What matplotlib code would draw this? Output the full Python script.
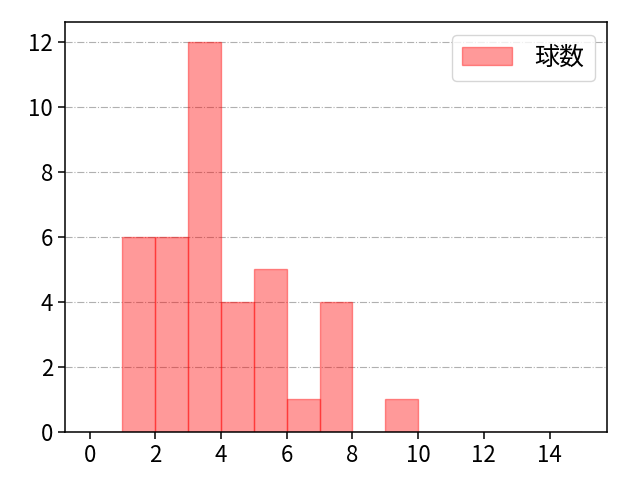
import numpy as np
import matplotlib
matplotlib.use("Agg")
import matplotlib.pyplot as plt
from matplotlib.ticker import MultipleLocator

plt.rcParams['font.family'] = ['Noto Sans CJK JP', 'DejaVu Sans']

# pitch-count histogram: bin left edges and counts
bin_edges = list(range(0, 16))
counts = [0, 6, 6, 12, 4, 5, 1, 4, 0, 1, 0, 0, 0, 0, 0]

centers = np.array(bin_edges[:-1]) + 0.5

fig, ax = plt.subplots(figsize=(6.4, 4.8), dpi=100)
ax.hist(centers, bins=bin_edges, weights=counts, color='red', alpha=0.4,
        edgecolor='red', label='球数')
ax.xaxis.set_major_locator(MultipleLocator(2))
ax.yaxis.set_major_locator(MultipleLocator(2))
ax.grid(axis='y', linestyle='-.', color='#b0b0b0')
ax.set_axisbelow(True)
ax.tick_params(labelsize=16, length=5, width=1.1)
for s in ax.spines.values():
    s.set_linewidth(1.1)
ax.legend(fontsize=18, handlelength=2.0, handletextpad=0.9)
fig.subplots_adjust(left=65/640, right=607/640, top=1-22/480, bottom=1-432/480)
plt.savefig('out.png')
